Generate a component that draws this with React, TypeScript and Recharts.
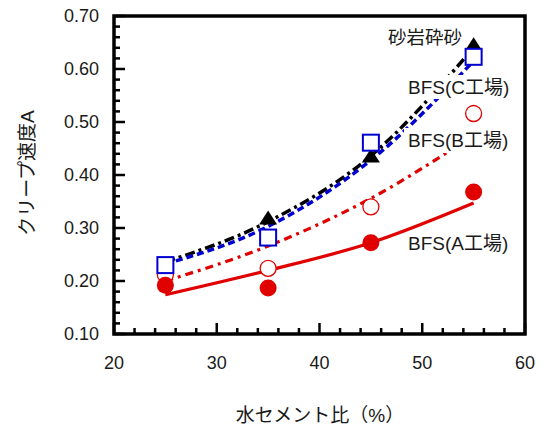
import React from "react";
import {
  ComposedChart,
  Line,
  XAxis,
  YAxis,
  ReferenceArea,
} from "recharts";

// water-cement ratio (%)
const wcRatio = [25, 35, 45, 55];

// measured creep rate A
const sandstone = [null, 0.318, 0.435, 0.645];
const bfsC = [0.23, 0.282, 0.461, 0.623];
const bfsB = [0.212, 0.224, 0.34, 0.516];
const bfsA = [0.192, 0.187, 0.272, 0.368];

// fitted curves read at the same ratios
const sandstoneFit = [0.236, 0.312, 0.436, 0.64];
const bfsCFit = [0.232, 0.303, 0.428, 0.615];
const bfsBFit = [0.2, 0.266, 0.356, 0.475];
const bfsAFit = [0.174, 0.22, 0.272, 0.347];

const xTicks = [20, 22, 24, 26, 28, 30, 32, 34, 36, 38, 40, 42, 44, 46, 48, 50, 52, 54, 56, 58, 60];
const yTicks = [
  0.1, 0.12, 0.14, 0.16, 0.18, 0.2, 0.22, 0.24, 0.26, 0.28, 0.3, 0.32, 0.34, 0.36, 0.38, 0.4,
  0.42, 0.44, 0.46, 0.48, 0.5, 0.52, 0.54, 0.56, 0.58, 0.6, 0.62, 0.64, 0.66, 0.68, 0.7,
];

const RED = "#e00000";
const BLUE = "#0000d0";
const FONT = "'Liberation Sans', Arial, 'Noto Sans CJK JP', sans-serif";
const TEXT = "#1a1a1a";

const data = wcRatio.map((x, i) => ({
  x,
  sandstone: sandstone[i],
  bfsC: bfsC[i],
  bfsB: bfsB[i],
  bfsA: bfsA[i],
  sandstoneFit: sandstoneFit[i],
  bfsCFit: bfsCFit[i],
  bfsBFit: bfsBFit[i],
  bfsAFit: bfsAFit[i],
}));

const XTick = (props: any) => {
  const { x, y, payload } = props;
  const v = payload.value;
  const major = v % 10 === 0;
  return (
    <g>
      <line x1={x} x2={x} y1={y} y2={y - (major ? 11 : 6)} stroke="#000" strokeWidth={2.5} />
      {major && (
        <text x={x} y={y + 29} dy="0.36em" textAnchor="middle" fontSize={18} fontFamily={FONT} fill={TEXT}>
          {v}
        </text>
      )}
    </g>
  );
};

const YTick = (props: any) => {
  const { x, y, payload } = props;
  const v = payload.value;
  const major = Math.round(v * 100) % 10 === 0;
  return (
    <g>
      <line x1={x} x2={x + (major ? 11 : 6)} y1={y} y2={y} stroke="#000" strokeWidth={2.5} />
      {major && (
        <text x={x - 15} y={y} dy="0.36em" textAnchor="end" fontSize={18} fontFamily={FONT} fill={TEXT}>
          {v.toFixed(2)}
        </text>
      )}
    </g>
  );
};

const FilledCircle = (p: any) =>
  p.cy == null ? null : <circle key={p.index} cx={p.cx} cy={p.cy} r={8.5} fill={RED} />;

const OpenCircle = (p: any) =>
  p.cy == null ? null : (
    <circle key={p.index} cx={p.cx} cy={p.cy} r={8} fill="#fff" stroke={RED} strokeWidth={1.3} />
  );

const Square = (p: any) =>
  p.cy == null ? null : (
    <rect key={p.index} x={p.cx - 8} y={p.cy - 8} width={16} height={16} fill="#fff" stroke={BLUE} strokeWidth={2} />
  );

const Triangle = (p: any) =>
  p.cy == null ? null : (
    <polygon
      key={p.index}
      points={`${p.cx},${p.cy - 8} ${p.cx + 9},${p.cy + 6} ${p.cx - 9},${p.cy + 6}`}
      fill="#000"
    />
  );

export default function App() {
  return (
    <div style={{ position: "absolute", left: 0, top: 0, width: 543, height: 428 }}>
      <ComposedChart
        width={543}
        height={428}
        data={data}
        margin={{ top: 16, right: 18, bottom: 0, left: 0 }}
      >
        <XAxis
          dataKey="x"
          type="number"
          domain={[20, 60]}
          ticks={xTicks}
          interval={0}
          height={94}
          tickSize={0}
          tickMargin={0}
          axisLine={false}
          tickLine={false}
          tick={<XTick />}
        />
        <YAxis
          type="number"
          domain={[0.1, 0.7]}
          ticks={yTicks}
          interval={0}
          width={114}
          tickSize={0}
          tickMargin={0}
          axisLine={false}
          tickLine={false}
          tick={<YTick />}
        />
        <ReferenceArea
          x1={20}
          x2={60}
          y1={0.1}
          y2={0.7}
          fill="none"
          stroke="#000"
          strokeWidth={3.5}
          ifOverflow="visible"
        />
        <Line
          dataKey="sandstoneFit"
          type="monotone"
          stroke="#000"
          strokeWidth={3.5}
          strokeDasharray="10 4 3 4"
          dot={false}
          activeDot={false}
          isAnimationActive={false}
        />
        <Line
          dataKey="bfsCFit"
          type="monotone"
          stroke={BLUE}
          strokeWidth={3.5}
          strokeDasharray="7 4"
          dot={false}
          activeDot={false}
          isAnimationActive={false}
        />
        <Line
          dataKey="bfsBFit"
          type="monotone"
          stroke={RED}
          strokeWidth={3.2}
          strokeDasharray="8 5 3 5"
          dot={false}
          activeDot={false}
          isAnimationActive={false}
        />
        <Line
          dataKey="bfsAFit"
          type="monotone"
          stroke={RED}
          strokeWidth={3.2}
          dot={false}
          activeDot={false}
          isAnimationActive={false}
        />
        <Line dataKey="bfsB" stroke="none" dot={OpenCircle} activeDot={false} isAnimationActive={false} />
        <Line dataKey="bfsA" stroke="none" dot={FilledCircle} activeDot={false} isAnimationActive={false} />
        <Line dataKey="sandstone" stroke="none" dot={Triangle} activeDot={false} isAnimationActive={false} />
        <Line dataKey="bfsC" stroke="none" dot={Square} activeDot={false} isAnimationActive={false} />
      </ComposedChart>
      <svg
        width={543}
        height={428}
        style={{ position: "absolute", left: 0, top: 0, pointerEvents: "none" }}
        fontFamily={FONT}
        fontSize={19}
        fill={TEXT}
      >
        {/* label boxes hide the fit lines behind the text */}
        <rect x={404} y={75} width={115} height={24} fill="#fff" />
        <rect x={404} y={128} width={115} height={25} fill="#fff" />
        <text x={388} y={37} dy="0.36em" fontSize={18.5}>砂岩砕砂</text>
        <text x={408} y={87} dy="0.36em">BFS(C工場)</text>
        <text x={408} y={140} dy="0.36em">BFS(B工場)</text>
        <text x={408} y={243} dy="0.36em">BFS(A工場)</text>
        <text x={320} y={415} dy="0.36em" textAnchor="middle">
          水セメント比（%）
        </text>
        <text
          x={27}
          y={173}
          dy="0.36em"
          textAnchor="middle"
          transform="rotate(-90 27 173)"
        >
          クリープ速度A
        </text>
      </svg>
    </div>
  );
}
